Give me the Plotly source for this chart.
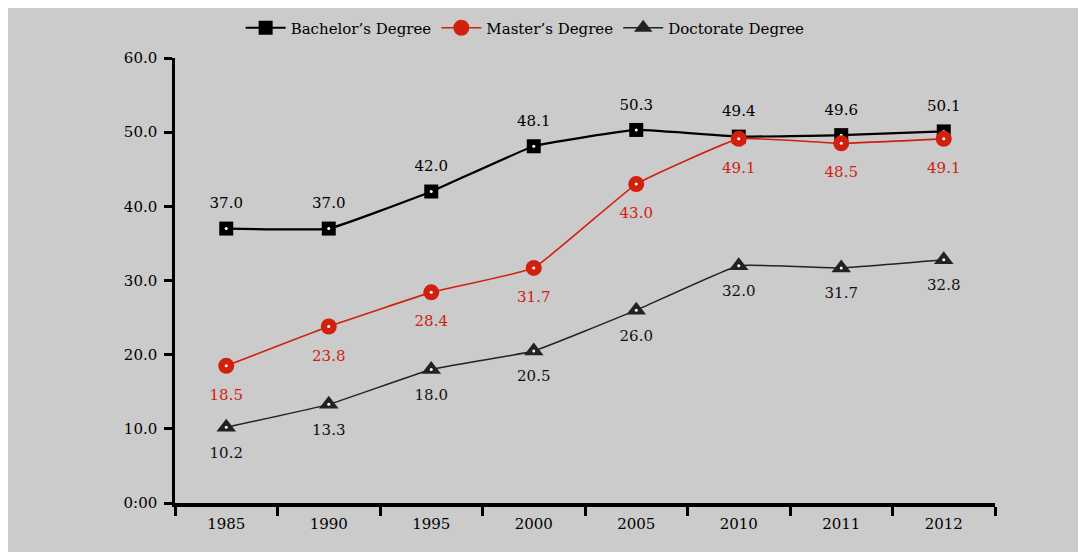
import plotly.graph_objects as go

years = ["1985", "1990", "1995", "2000", "2005", "2010", "2011", "2012"]
bachelor = [37.0, 37.0, 42.0, 48.1, 50.3, 49.4, 49.6, 50.1]
master = [18.5, 23.8, 28.4, 31.7, 43.0, 49.1, 48.5, 49.1]
doctorate = [10.2, 13.3, 18.0, 20.5, 26.0, 32.0, 31.7, 32.8]
y_ticks = [0, 10, 20, 30, 40, 50, 60]
y_tick_labels = ["0:00", "10.0", "20.0", "30.0", "40.0", "50.0", "60.0"]

FONT = "DejaVu Serif"
RED = "#d2200f"
BG = "#cbcbcb"

fig = go.Figure()

series = [
    ("Bachelor’s Degree", bachelor, "#000000", "square", 14, 2.2, "top center", 25, "#000000"),
    ("Master’s Degree", master, RED, "circle", 16, 1.6, "bottom center", 35, RED),
    ("Doctorate Degree", doctorate, "#222222", "triangle-up", 17, 1.5, "bottom center", 29, "#111111"),
]

for name, vals, col, sym, size, lw, tpos, pad, tcol in series:
    fig.add_trace(go.Scatter(
        x=years, y=vals, name=name, mode="lines+markers",
        line=dict(color=col, width=lw, shape="spline", smoothing=0.3),
        marker=dict(symbol=sym, size=size, color=col, line=dict(width=0)),
        cliponaxis=False,
    ))
    fig.add_trace(go.Scatter(
        x=years, y=vals, mode="markers", showlegend=False, hoverinfo="skip",
        marker=dict(symbol="circle", size=3, color="white"),
        cliponaxis=False,
    ))
    # value labels, offset by an invisible marker
    fig.add_trace(go.Scatter(
        x=years, y=vals, mode="markers+text", showlegend=False, hoverinfo="skip",
        marker=dict(symbol="circle", size=pad, color="rgba(0,0,0,0)"),
        text=[f"{v:.1f}" for v in vals], textposition=tpos,
        textfont=dict(family=FONT, size=15, color=tcol),
        cliponaxis=False,
    ))

# page body has an 8px margin, so the figure is placed accordingly
fig.update_layout(
    width=1086, height=552,
    margin=dict(l=167, r=99, t=50, b=57, autoexpand=False),
    paper_bgcolor=BG,
    plot_bgcolor=BG,
    font=dict(family=FONT, size=15, color="#000000"),
    showlegend=True,
    legend=dict(orientation="h", x=0.427, xanchor="center", y=(445 + 50 - 20) / 445, yanchor="middle",
                font=dict(family=FONT, size=15, color="#000"), bgcolor="rgba(0,0,0,0)",
                itemwidth=40, traceorder="normal"),
)

fig.update_xaxes(
    type="category", range=[-0.5, 7.5], tickson="boundaries",
    showline=True, linecolor="#000", linewidth=3.5,
    ticks="outside", ticklen=9, tickwidth=2.5, tickcolor="#000",
    showgrid=False, zeroline=False, ticklabelstandoff=4,
    tickfont=dict(family=FONT, size=15, color="#000"),
)
fig.update_yaxes(
    range=[0, 60], tickvals=y_ticks, ticktext=y_tick_labels,
    showline=True, linecolor="#000", linewidth=2.5,
    ticks="outside", ticklen=8, tickwidth=2.5, tickcolor="#000",
    showgrid=False, zeroline=False, ticklabelstandoff=4,
    tickfont=dict(family=FONT, size=15, color="#000"),
)

fig.write_html("out.html")
